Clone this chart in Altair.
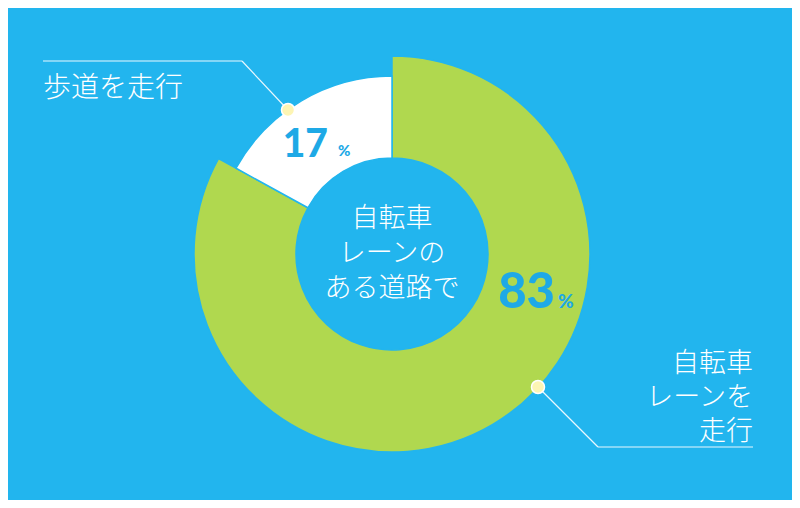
import altair as alt
import pandas as pd

# ---- data ----
categories = ["自転車レーンを走行", "歩道を走行"]
values = [83, 17]
slice_order = [0, 1]
label_lines = {
    "自転車レーンを走行": ["自転車", "レーンを", "走行"],
    "歩道を走行": ["歩道を走行"],
}
center_lines = ["自転車", "レーンの", "ある道路で"]
pct_symbol = "%"

df = pd.DataFrame({"category": categories, "value": values, "order": slice_order})

# ---- style / layout ----
BG = "#22b5ee"
GREEN = "#b0d84f"
WHITE = "#ffffff"
PCT_BLUE = "#1ea9e6"
DOT = "#fdf5b4"
W, H = 784, 492
CX, CY = 384, 246
R_IN, R_GREEN, R_WHITE = 96, 198, 178
JP = "Noto Sans CJK JP"
NUM = "Lato"

base = alt.Chart(df)

arcs = base.transform_window(
    end="sum(value)", sort=[alt.SortField("order")], frame=[None, 0]
).transform_calculate(
    start="datum.end - datum.value",
    r=f"datum.category == '{categories[1]}' ? {R_WHITE} : {R_GREEN}",
).mark_arc(innerRadius=R_IN, stroke=BG, strokeWidth=1.5).encode(
    theta=alt.Theta("start:Q", scale=alt.Scale(domain=[0, sum(values)]), stack=None),
    theta2=alt.Theta2("end:Q"),
    radius=alt.Radius("r:Q", scale=None),
    color=alt.Color("category:N", scale=alt.Scale(domain=categories, range=[GREEN, WHITE]), legend=None),
    x=alt.value(CX), y=alt.value(CY),
)

center_text = base.transform_filter(alt.datum.order == 0).mark_text(
    font=JP, fontWeight=300, fontSize=27, color="white", align="center",
    baseline="middle", lineHeight=35,
).encode(x=alt.value(CX), y=alt.value(211), text=alt.value(center_lines))

def only(cat):
    return base.transform_filter(alt.datum.category == cat)

# percentages
pct83 = only(categories[0]).mark_text(
    font=NUM, fontWeight=900, fontSize=49, color=PCT_BLUE, align="right", baseline="alphabetic"
).encode(x=alt.value(547), y=alt.value(300), text=alt.Text("value:Q"))
pct83s = only(categories[0]).mark_text(
    font=NUM, fontWeight=900, fontSize=19, color=PCT_BLUE, align="left", baseline="alphabetic"
).encode(x=alt.value(550), y=alt.value(300), text=alt.value(pct_symbol))
pct17 = only(categories[1]).mark_text(
    font=NUM, fontWeight=900, fontSize=39, color=PCT_BLUE, align="right", baseline="alphabetic"
).encode(x=alt.value(320), y=alt.value(149), text=alt.Text("value:Q"))
pct17s = only(categories[1]).mark_text(
    font=NUM, fontWeight=900, fontSize=15, color=PCT_BLUE, align="left", baseline="alphabetic"
).encode(x=alt.value(330), y=alt.value(148), text=alt.value(pct_symbol))

# leader lines
LINE = dict(color="white", strokeWidth=1.2, opacity=0.9)
l1a = only(categories[1]).mark_rule(**LINE).encode(
    x=alt.value(35), x2=alt.value(234), y=alt.value(53), y2=alt.value(53))
l1b = only(categories[1]).mark_rule(**LINE).encode(
    x=alt.value(234), x2=alt.value(280), y=alt.value(53), y2=alt.value(102))
l0a = only(categories[0]).mark_rule(**LINE).encode(
    x=alt.value(530), x2=alt.value(590), y=alt.value(379), y2=alt.value(439))
l0b = only(categories[0]).mark_rule(**LINE).encode(
    x=alt.value(590), x2=alt.value(745), y=alt.value(439), y2=alt.value(439))

dot1 = only(categories[1]).mark_point(
    filled=True, fill=DOT, stroke="white", strokeWidth=1.5, size=170, opacity=1
).encode(x=alt.value(280), y=alt.value(102))
dot0 = only(categories[0]).mark_point(
    filled=True, fill=DOT, stroke="white", strokeWidth=1.5, size=170, opacity=1
).encode(x=alt.value(530), y=alt.value(379))

lab1 = only(categories[1]).mark_text(
    font=JP, fontWeight=300, fontSize=28, color="white", align="left", baseline="alphabetic"
).encode(x=alt.value(35), y=alt.value(89), text=alt.value(label_lines[categories[1]]))
lab0 = only(categories[0]).mark_text(
    font=JP, fontWeight=300, fontSize=27, color="white", align="right", baseline="alphabetic",
    lineHeight=34,
).encode(x=alt.value(745), y=alt.value(364), text=alt.value(label_lines[categories[0]]))

chart = alt.layer(
    arcs, center_text, pct83, pct83s, pct17, pct17s,
    l1a, l1b, l0a, l0b, dot1, dot0, lab1, lab0,
).properties(
    width=W, height=H, background=BG, padding=0
).configure_view(stroke=None)

chart.save("out.html", embed_options={"renderer": "svg", "actions": False})
